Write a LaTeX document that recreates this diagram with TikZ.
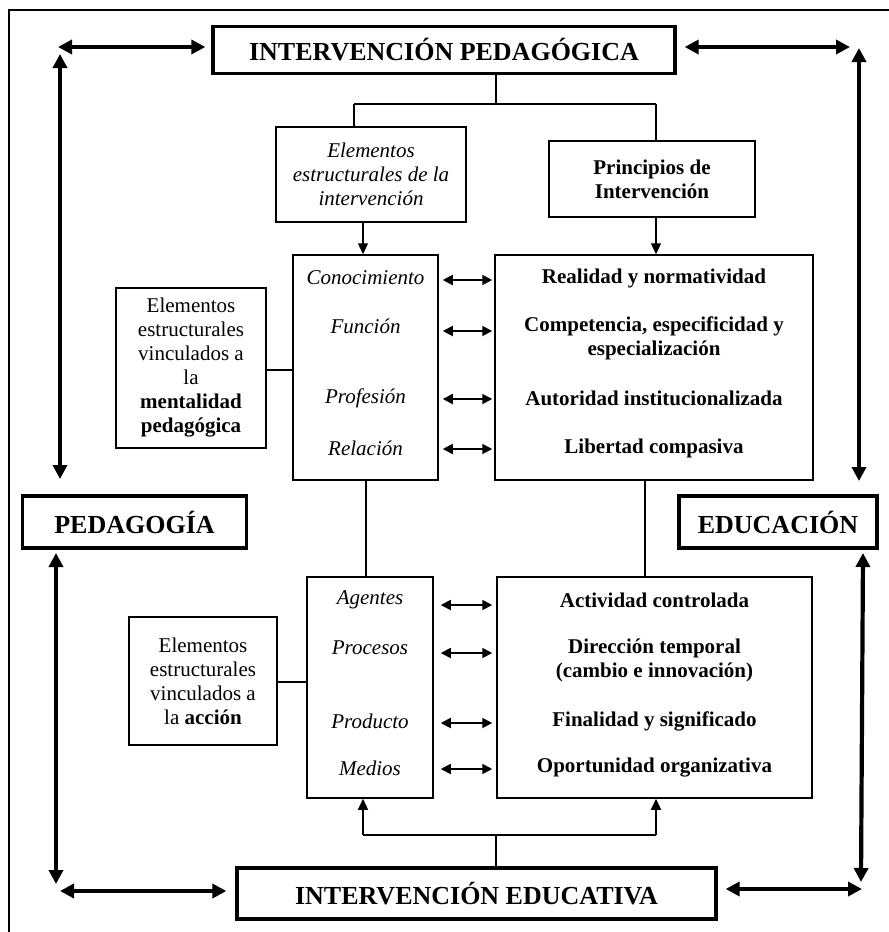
\documentclass[tikz,border=0pt]{standalone}
\usepackage{fontspec}
\setmainfont{Liberation Serif}
\usetikzlibrary{arrows.meta}
\begin{document}
\begin{tikzpicture}[x=1pt,y=-1pt,
  thickbox/.style={draw, line width=3.3pt, inner sep=0pt, font=\fontsize{26}{28}\selectfont\bfseries, align=center},
  thinbox/.style={draw, line width=1.5pt, inner sep=0pt, font=\fontsize{21}{24}\selectfont, align=center},
  itemtxt/.style={inner sep=0pt, font=\fontsize{21}{24}\selectfont, align=center, anchor=center},
  bigarrow/.style={line width=4.2pt, {Triangle[length=14pt,width=14pt]}-{Triangle[length=14pt,width=14pt]}},
  smallarrow/.style={line width=1.8pt, {Triangle[length=10pt,width=10pt]}-{Triangle[length=10pt,width=10pt]}},
  conn/.style={line width=1.3pt},
  thickconn/.style={line width=2.8pt},
  tip/.style={line width=1.3pt, -{Triangle[length=11pt,width=10pt]}}
]
\useasboundingbox (0,0) rectangle (889,932);
% outer frame
\draw[line width=1.5pt] (9,932) -- (9,10) -- (889,10);

% main boxes
\node[thickbox, minimum width=462pt, minimum height=47pt] (IP) at (444,50) {INTERVENCIÓN PEDAGÓGICA};
\node[thickbox, minimum width=224pt, minimum height=52pt] (PED) at (134.5,522) {PEDAGOGÍA};
\node[thickbox, minimum width=198pt, minimum height=52pt] (EDU) at (778,522) {EDUCACIÓN};
\node[thickbox, minimum width=479pt, minimum height=51pt] (IE) at (476.5,893.5) {INTERVENCIÓN EDUCATIVA};

% second level
\node[thinbox, minimum width=190pt, minimum height=95pt, font=\fontsize{21}{24}\selectfont\itshape] (EI) at (371,174.5) {Elementos\\estructurales de la\\intervención};
\node[thinbox, minimum width=206pt, minimum height=76pt, font=\fontsize{21}{24}\selectfont\bfseries] (PI) at (652,179) {Principios de\\Intervención};

% upper list boxes
\node[thinbox, minimum width=145pt, minimum height=225pt] (UL) at (365.5,367.5) {};
\node[thinbox, minimum width=318pt, minimum height=225pt] (UR) at (654,367.5) {};
\node[thinbox, minimum width=150pt, minimum height=160pt] (MB) at (191,368) {Elementos\\estructurales\\vinculados a\\la\\\textbf{mentalidad}\\\textbf{pedagógica}};

% lower list boxes
\node[thinbox, minimum width=126pt, minimum height=221pt] (LL) at (370,687.5) {};
\node[thinbox, minimum width=315pt, minimum height=221pt] (LR) at (654.5,687.5) {};
\node[thinbox, minimum width=148pt, minimum height=128pt] (AB) at (203,681) {Elementos\\estructurales\\vinculados a\\la \textbf{acción}};

% upper items
\begin{scope}[every node/.style={itemtxt}]
\node[font=\fontsize{21}{24}\selectfont\itshape] (c1) at (365.5,278) {Conocimiento};
\node[font=\fontsize{21}{24}\selectfont\itshape] (c2) at (365.5,326) {Función};
\node[font=\fontsize{21}{24}\selectfont\itshape] (c3) at (365.5,398) {Profesión};
\node[font=\fontsize{21}{24}\selectfont\itshape] (c4) at (365.5,448) {Relación};
\node[font=\fontsize{21}{24}\selectfont\bfseries] (r1) at (654,278) {Realidad y normatividad};
\node[font=\fontsize{21}{24}\selectfont\bfseries] (r2) at (654,338) {Competencia, especificidad y\\especialización};
\node[font=\fontsize{21}{24}\selectfont\bfseries] (r3) at (654,398) {Autoridad institucionalizada};
\node[font=\fontsize{21}{24}\selectfont\bfseries] (r4) at (654,448) {Libertad compasiva};
% lower items
\node[font=\fontsize{21}{24}\selectfont\itshape] (a1) at (370,600) {Agentes};
\node[font=\fontsize{21}{24}\selectfont\itshape] (a2) at (370,648) {Procesos};
\node[font=\fontsize{21}{24}\selectfont\itshape] (a3) at (370,721) {Producto};
\node[font=\fontsize{21}{24}\selectfont\itshape] (a4) at (370,768) {Medios};
\node[font=\fontsize{21}{24}\selectfont\bfseries] (b1) at (654.5,600) {Actividad controlada};
\node[font=\fontsize{21}{24}\selectfont\bfseries] (b2) at (654.5,660) {Dirección temporal\\(cambio e innovación)};
\node[font=\fontsize{21}{24}\selectfont\bfseries] (b3) at (654.5,721) {Finalidad y significado};
\node[font=\fontsize{21}{24}\selectfont\bfseries] (b4) at (654.5,768) {Oportunidad organizativa};
\end{scope}

% small double arrows
\foreach \y in {280,331,399,449}{
  \draw[smallarrow] (UL.east |- 0,\y) ++(4,0) -- ([xshift=-2pt]UR.west |- 0,\y);
}
\foreach \y in {605,653,723,769}{
  \draw[smallarrow] (LL.east |- 0,\y) ++(7,0) -- ([xshift=-4pt]LR.west |- 0,\y);
}

% top connector tree
\coordinate (tj) at (496,104);
\draw[conn] (IP.south -| tj) -- (tj);
\draw[conn] (354,104) -- (656,104);
\draw[conn] (354,104) -- (EI.north -| 354,0);
\draw[conn] (656,104) -- (PI.north -| 656,0);
\draw[tip] (EI.south -| 363,0) -- (UL.north -| 363,0);
\draw[tip] (PI.south -| 656,0) -- (UR.north -| 656,0);

% side connectors
\draw[thickconn] (MB.east |- 0,370) -- (UL.west |- 0,370);
\draw[thickconn] (AB.east |- 0,682) -- (LL.west |- 0,682);
\draw[conn] (UL.south -| 366,0) -- (LL.north -| 366,0);
\draw[conn] (UR.south -| 645,0) -- (LR.north -| 645,0);

% bottom connector tree
\coordinate (bj) at (496,835);
\draw[conn] (IE.north -| bj) -- (bj);
\draw[conn] (363,835) -- (656,835);
\draw[tip] (363,835) -- (LL.south -| 363,0);
\draw[tip] (656,835) -- (LR.south -| 656,0);

% big arrows
\coordinate (tl) at (58,47);
\coordinate (tr) at (850,47);
\coordinate (bl) at (60,891);
\coordinate (br) at (862,889);
\draw[bigarrow] (tl) -- ([xshift=-6pt]IP.west |- tl);
\draw[bigarrow] ([xshift=8pt]IP.east |- tr) -- (tr);
\draw[bigarrow] (60,54) -- (60,479);
\draw[bigarrow] (859,48) -- (859,481);
\draw[bigarrow] (56,553) -- (56,884);
\draw[bigarrow] (863,553) -- (861,882);
\draw[bigarrow] (bl) -- ([xshift=-9pt]IE.west |- bl);
\draw[bigarrow] ([xshift=8pt]IE.east |- br) -- (br);
\end{tikzpicture}
\end{document}
